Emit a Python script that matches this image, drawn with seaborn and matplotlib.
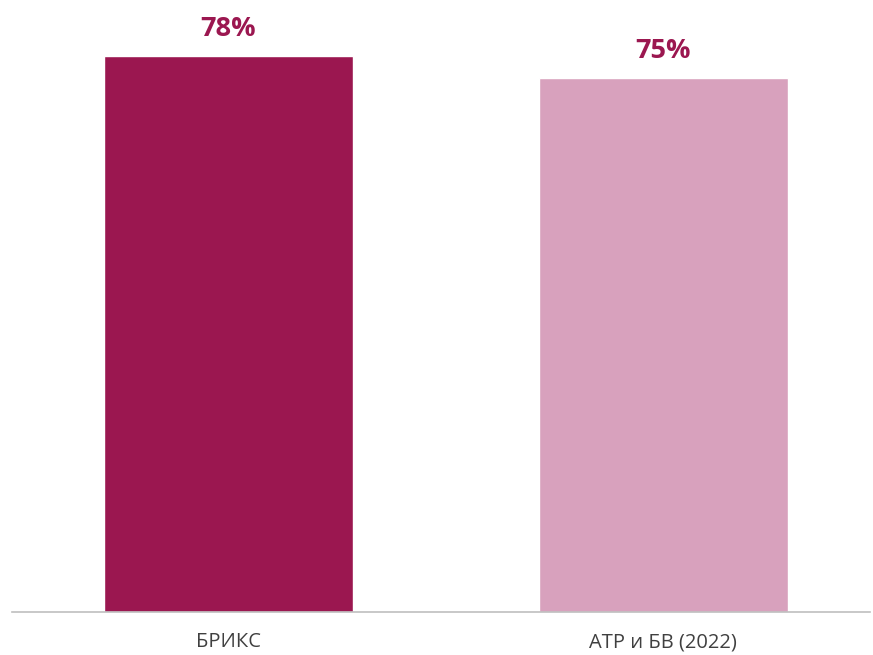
import pandas as pd
import matplotlib
matplotlib.use('Agg')
import matplotlib.pyplot as plt
import seaborn as sns

# Data
categories = ['БРИКС', 'АТР и БВ (2022)']
values = [78, 75]
bar_colors = ['#9B1750', '#D8A1BD']

sns.set_style('white')
plt.rcParams['font.family'] = ['Open Sans', 'DejaVu Sans']

df = pd.DataFrame({'group': categories, 'share': values})

fig = plt.figure(figsize=(8.73, 6.55), dpi=100)
ax = fig.add_axes([12 / 873, 43 / 655, 858 / 873, 570 / 655])

sns.barplot(data=df, x='group', y='share', hue='group',
            palette=bar_colors, width=0.573, saturation=1,
            legend=False, ax=ax)

# value labels above the bars
for i, v in enumerate(values):
    ax.annotate(f'{v}%', xy=(i, v), xytext=(0, 10), textcoords='offset points',
                ha='center', va='bottom', fontsize=19.5, fontweight=700,
                fontstretch='normal', family=['Open Sans', 'DejaVu Sans'],
                color='#9B1750', annotation_clip=False)

ax.set_xlim(-0.498, 1.476)
ax.set_ylim(0, 80)
ax.set_xlabel('')
ax.set_ylabel('')
ax.set_yticks([])
ax.tick_params(axis='x', length=0, labelsize=14.5, labelcolor='#404040', pad=14.5)
for side in ['top', 'left', 'right']:
    ax.spines[side].set_visible(False)
ax.spines['bottom'].set_color('#BFBFBF')
ax.spines['bottom'].set_linewidth(1.2)

fig.savefig('out.png', dpi=100)
plt.close()
